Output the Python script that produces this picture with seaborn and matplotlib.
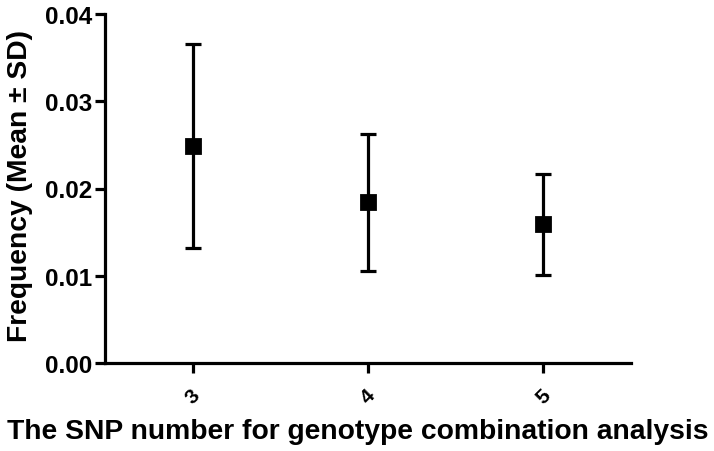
import matplotlib
matplotlib.use("Agg")
import matplotlib.pyplot as plt
import seaborn as sns
import pandas as pd

categories = ["3", "4", "5"]
means = [0.0249, 0.0184, 0.0159]
sds = [0.0117, 0.0079, 0.0058]
yticks = [0.00, 0.01, 0.02, 0.03, 0.04]
ytick_labels = ["0.00", "0.01", "0.02", "0.03", "0.04"]

sns.set_style("ticks")
plt.rcParams["font.family"] = ["Liberation Sans", "DejaVu Sans"]
plt.rcParams["font.weight"] = "bold"
plt.rcParams["text.color"] = "black"
plt.rcParams["xtick.color"] = "black"
plt.rcParams["ytick.color"] = "black"
plt.rcParams["axes.labelcolor"] = "black"

df = pd.DataFrame({"n": categories, "freq": means})

fig = plt.figure(figsize=(7.14, 4.52), dpi=100)
ax = fig.add_axes([105/714, 1-364/452, (631-105)/714, (364-15)/452])

ax.errorbar(range(len(categories)), means, yerr=sds, fmt="none", ecolor="black",
            elinewidth=2.3, capsize=6, capthick=2.3, zorder=2)
sns.pointplot(data=df, x="n", y="freq", linestyle="none", marker="s", errorbar=None,
              color="black", markersize=10, ax=ax, zorder=3)

ax.set_xlim(-0.5, 2.5)
ax.set_ylim(0, 0.04)
ax.set_yticks(yticks)
ax.set_yticklabels(ytick_labels, fontsize=17.5, fontweight="bold", color="black")
ax.set_xticks(range(len(categories)))
ax.set_xticklabels(categories, fontsize=15, fontweight="bold", rotation=45,
                   ha="center", va="top", color="black")
ax.tick_params(axis="both", width=2.3, length=7, color="black")
ax.tick_params(axis="x", pad=9)
ax.tick_params(axis="y", pad=2)
for s in ["left", "bottom"]:
    ax.spines[s].set_linewidth(2.3)
    ax.spines[s].set_color("black")
sns.despine(ax=ax)

ax.set_xlabel("")
ax.set_ylabel("")
fig.text(358/714, 1-432/452, "The SNP number for genotype combination analysis",
         ha="center", va="center", fontsize=20.3, fontweight="bold", color="black")
fig.text(20/714, 1-186/452, "Frequency (Mean ± SD)", ha="center", va="center",
         rotation=90, fontsize=20.3, fontweight="bold", color="black")

fig.savefig("out.png", dpi=100)
